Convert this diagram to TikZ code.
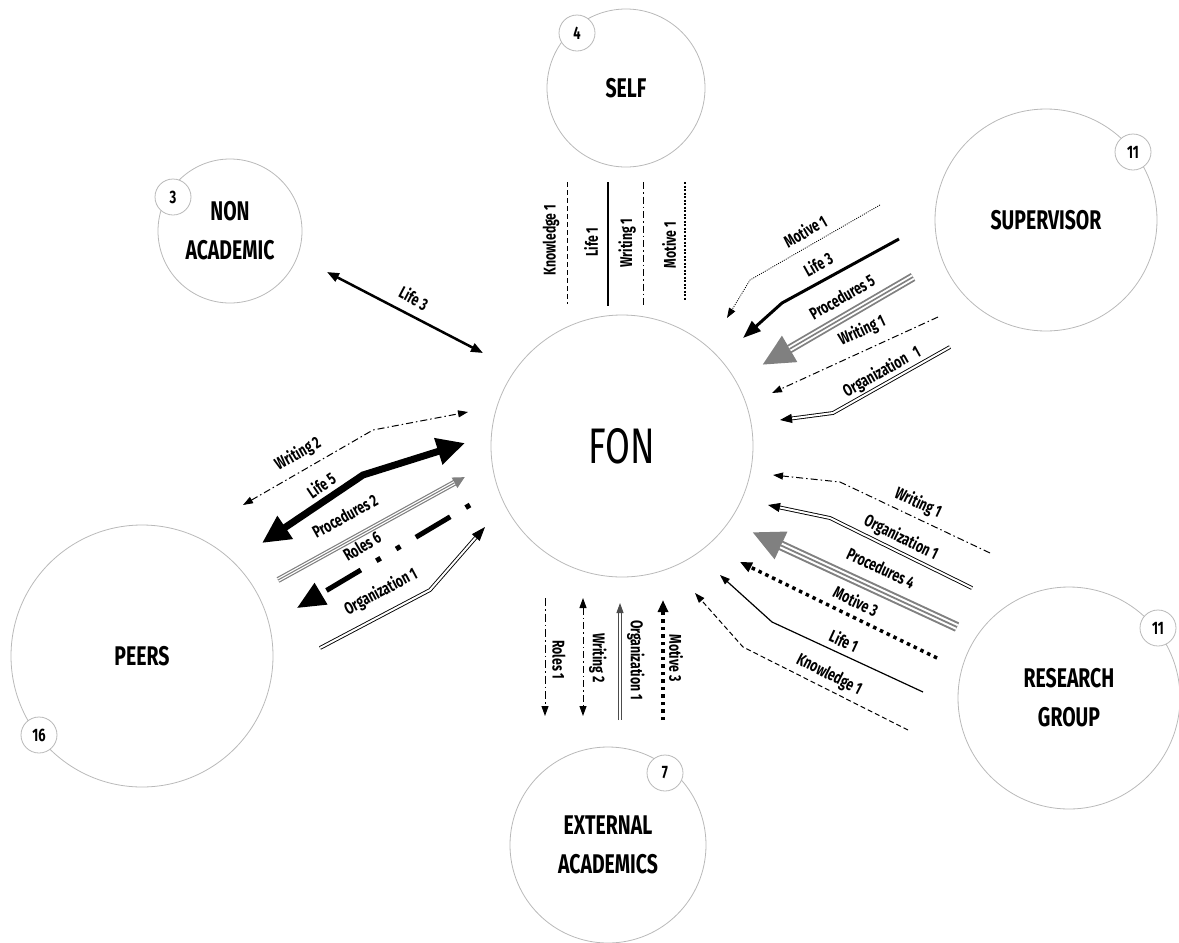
\documentclass[tikz,border=0pt]{standalone}
\usepackage{fontspec}
\setmainfont{Fira Sans}[FakeStretch=0.72]
\usetikzlibrary{arrows.meta}

\tikzset{
  ring/.style={circle, draw=gray!55, line width=0.8pt, minimum size=#1, inner sep=0pt},
  badge/.style={circle, draw=gray!55, fill=white, line width=0.8pt, minimum size=36pt,
    inner sep=0pt, font=\fontsize{18}{18}\selectfont\bfseries},
  who/.style={align=center, font=\fontsize{27}{39}\selectfont\bfseries},
  lbl/.style={inner sep=0pt, font=\fontsize{17}{17}\selectfont\bfseries},
  dashd/.style={line width=1pt, dash pattern=on 5pt off 3pt},
  dashdot/.style={line width=1pt, dash pattern=on 7pt off 3pt on 1.5pt off 3pt},
  finedot/.style={line width=0.8pt, dash pattern=on 1pt off 1.2pt},
  bigdot/.style={line width=3.5pt, dash pattern=on 3.5pt off 4pt},
  dbl/.style={double, line width=0.9pt, double distance=2pt},
  triple/.style 2 args={draw=gray, line width=#1pt,
    postaction={draw=white, -, line width=0.6*#1pt, shorten >=#2},
    postaction={draw=gray, -, line width=0.18*#1pt, shorten >=#2}},
}

\begin{document}
\begin{tikzpicture}[x=1pt, y=-1pt, >={Triangle[length=10pt, width=7pt]}]
\useasboundingbox (0,0) rectangle (1179,943);
\clip (0,0) rectangle (1179,943);

% the circles
\node[ring=262pt, font=\fontsize{50}{50}\selectfont] (fon) at (622,446) {FON};
\node[ring=158pt, who] (self) at (626,88) {SELF};
\node[ring=144pt, who] (nonac) at (230,231) {NON\\ACADEMIC};
\node[ring=222pt, who] (sup) at (1046,220) {SUPERVISOR};
\node[ring=222pt, who] (rg) at (1069,698) {RESEARCH\\GROUP};
\node[ring=262pt, who] (peers) at (142,656) {PEERS};
\node[ring=196pt, who] (ext) at (608,845) {EXTERNAL\\ACADEMICS};

\node[badge] (bself) at (577,33) {4};
\node[badge] (bnon) at (173,197) {3};
\node[badge] (bsup) at (1133,152) {11};
\node[badge] (brg) at (1158,628) {11};
\node[badge] (bpeer) at (39,735) {16};
\node[badge] (bext) at (665,773) {7};

% non academic
\coordinate (na1) at (327,272); \coordinate (na2) at (483,353);
\draw[line width=2.5pt, {Triangle[length=12pt,width=9pt]}-{Triangle[length=12pt,width=9pt]}] (na1) -- (na2);
\node[lbl, rotate=-28] (lna) at (414,298) {Life 3};

% self
\coordinate (sk1) at (567,182); \coordinate (sk2) at (567,304);
\coordinate (sl1) at (608,182); \coordinate (sl2) at (608,306);
\coordinate (sw1) at (643,182); \coordinate (sw2) at (643,305);
\coordinate (sm1) at (685,182); \coordinate (sm2) at (685,300);
\draw[dashd] (sk1) -- (sk2);
\draw[line width=1.2pt] (sl1) -- (sl2);
\draw[dashdot] (sw1) -- (sw2);
\draw[line width=1.2pt, dash pattern=on 2pt off 1.5pt] (sm1) -- (sm2);
\node[lbl, rotate=90] (lsk) at (551,240) {Knowledge 1};
\node[lbl, rotate=90] (lsl) at (591,242) {Life 1};
\node[lbl, rotate=90] (lsw) at (627,243) {Writing 1};
\node[lbl, rotate=90] (lsm) at (669,245) {Motive 1};

% external academics
\coordinate (er1) at (545,598); \coordinate (er2) at (545,716);
\coordinate (ew1) at (583,598); \coordinate (ew2) at (583,716);
\coordinate (eo1) at (620,720); \coordinate (eo2) at (620,603);
\coordinate (em1) at (663,720); \coordinate (em2) at (663,600);
\draw[line width=1pt, dash pattern=on 8pt off 3pt on 1.5pt off 3pt, ->] (er1) -- (er2);
\draw[dashdot, <->] (ew1) -- (ew2);
\draw[dbl, draw=gray!60!black, ->] (eo1) -- (eo2);
\draw[bigdot, -{Triangle[length=12pt,width=10pt]}] (em1) -- (em2);
\node[lbl, rotate=-90] (ler) at (559,660) {Roles 1};
\node[lbl, rotate=-90] (lew) at (598,658) {Writing 2};
\node[lbl, rotate=-90] (leo) at (636,660) {Organization 1};
\node[lbl, rotate=-90] (lem) at (676,658) {Motive 3};

% supervisor
\coordinate (um1) at (880,205); \coordinate (umb) at (750,280); \coordinate (um2) at (727,318);
\coordinate (ul1) at (899,239); \coordinate (ulb) at (782,303); \coordinate (ul2) at (743,338);
\coordinate (up1) at (913,277); \coordinate (up2) at (762,365);
\coordinate (uw1) at (938,317); \coordinate (uw2) at (772,393);
\coordinate (uo1) at (950,347); \coordinate (uob) at (833,413); \coordinate (uo2) at (780,420);
\draw[finedot, ->] (um1) -- (umb) -- (um2);
\draw[line width=3pt, -{Triangle[length=18pt,width=13pt]}] (ul1) -- (ulb) -- (ul2);
\draw[triple={9}{32pt}, -{Triangle[length=32pt,width=28pt]}] (up1) -- (up2);
\draw[dashdot, ->] (uw1) -- (uw2);
\draw[dbl, -{Triangle[length=12pt,width=9pt]}] (uo1) -- (uob) -- (uo2);
\node[lbl, rotate=30] (lum) at (805,231) {Motive 1};
\node[lbl, rotate=29] (lul) at (818,264) {Life 3};
\node[lbl, rotate=30] (lup) at (842,297) {Procedures 5};
\node[lbl, rotate=25] (luw) at (862,331) {Writing 1};
\node[lbl, rotate=29] (luo) at (882,372) {Organization\enspace 1};

% research group
\coordinate (rw1) at (990,553); \coordinate (rwb) at (840,482); \coordinate (rw2) at (773,475);
\coordinate (ro1) at (972,588); \coordinate (rob) at (830,518); \coordinate (ro2) at (768,505);
\coordinate (rp1) at (957,627); \coordinate (rp2) at (752,532);
\coordinate (rm1) at (937,658); \coordinate (rm2) at (740,562);
\coordinate (rl1) at (923,692); \coordinate (rlb) at (772,622); \coordinate (rl2) at (720,575);
\coordinate (rk1) at (908,730); \coordinate (rkb) at (743,647); \coordinate (rk2) at (695,593);
\draw[dashdot, ->] (rw1) -- (rwb) -- (rw2);
\draw[dbl, -{Triangle[length=12pt,width=9pt]}] (ro1) -- (rob) -- (ro2);
\draw[triple={10}{32pt}, -{Triangle[length=32pt,width=28pt]}] (rp1) -- (rp2);
\draw[bigdot, -{Triangle[length=12pt,width=10pt]}] (rm1) -- (rm2);
\draw[line width=1.2pt, ->] (rl1) -- (rlb) -- (rl2);
\draw[dashd, ->] (rk1) -- (rkb) -- (rk2);
\node[lbl, rotate=-25] (lrw) at (918,503) {Writing 1};
\node[lbl, rotate=-26] (lro) at (901,538) {Organization 1};
\node[lbl, rotate=-25] (lrp) at (881,568) {Procedures 4};
\node[lbl, rotate=-26] (lrm) at (856,601) {Motive 3};
\node[lbl, rotate=-25] (lrl) at (844,641) {Life 1};
\node[lbl, rotate=-27] (lrk) at (829,675) {Knowledge 1};

% peers
\coordinate (pw1) at (243,505); \coordinate (pwb) at (373,430); \coordinate (pw2) at (468,412);
\coordinate (pl1) at (262,543); \coordinate (plb) at (363,475); \coordinate (pl2) at (465,443);
\coordinate (pp1) at (278,580); \coordinate (pp2) at (465,477);
\coordinate (pr1) at (470,505); \coordinate (pr2) at (297,608);
\coordinate (po1) at (320,648); \coordinate (pob) at (430,590); \coordinate (po2) at (485,527);
\draw[dashdot, <->] (pw1) -- (pwb) -- (pw2);
\draw[line width=7pt, {Triangle[length=28pt,width=26pt]}-{Triangle[length=28pt,width=26pt]}] (pl1) -- (plb) -- (pl2);
\draw[triple={6}{12pt}, -{Triangle[length=12pt,width=11pt]}] (pp1) -- (pp2);
\draw[line width=5pt, dash pattern=on 5pt off 18pt on 40pt off 18pt on 5pt off 18pt,
  -{Triangle[length=28pt,width=24pt]}] (pr1) -- (pr2);
\draw[dbl, -{Triangle[length=14pt,width=10pt]}] (po1) -- (pob) -- (po2);
\node[lbl, rotate=30] (lpw) at (298,454) {Writing 2};
\node[lbl, rotate=34] (lpl) at (321,485) {Life 5};
\node[lbl, rotate=29] (lpp) at (345,516) {Procedures 2};
\node[lbl, rotate=31] (lpr) at (362,546) {Roles 6};
\node[lbl, rotate=28] (lpo) at (381,592) {Organization 1};
\end{tikzpicture}
\end{document}
